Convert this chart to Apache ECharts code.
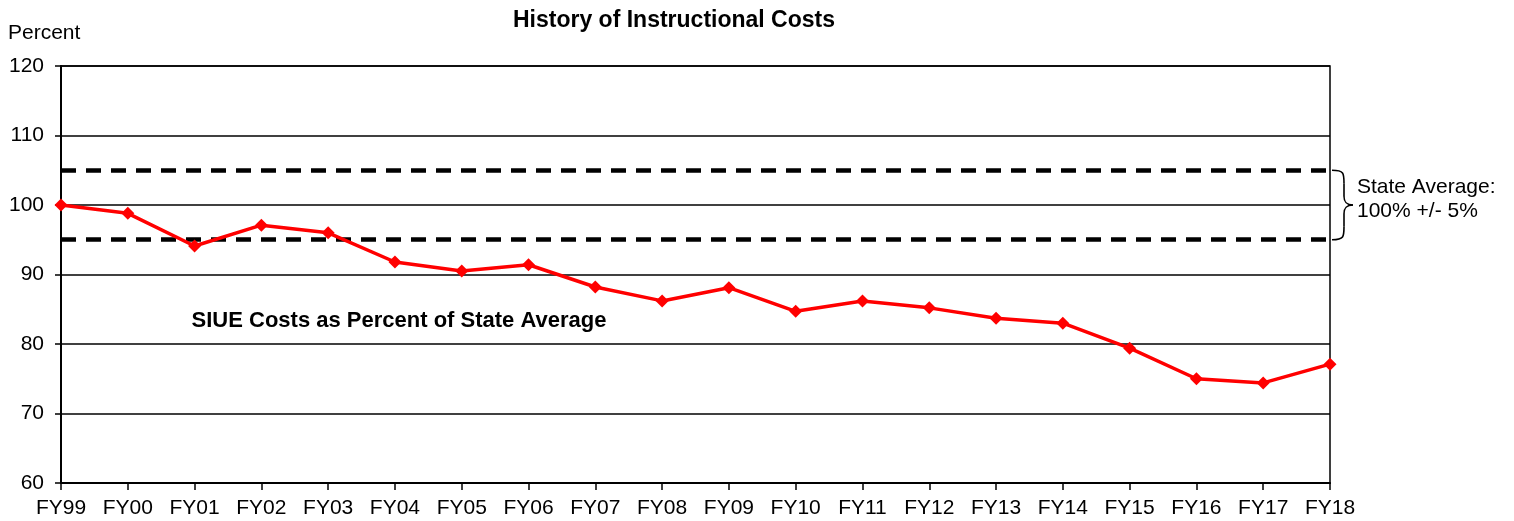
<!DOCTYPE html>
<html><head><meta charset="utf-8">
<script src="https://cdn.jsdelivr.net/npm/echarts@6/dist/echarts.min.js"></script>
<style>html,body{margin:0;padding:0;background:#fff}#c{width:1514px;height:521px}</style>
</head><body><div id="c"></div>
<script>
const categories = ['FY99','FY00','FY01','FY02','FY03','FY04','FY05','FY06','FY07','FY08','FY09','FY10','FY11','FY12','FY13','FY14','FY15','FY16','FY17','FY18'];
const siueCosts = [100.0, 98.8, 94.1, 97.1, 96.0, 91.8, 90.5, 91.4, 88.2, 86.2, 88.1, 84.7, 86.2, 85.2, 83.7, 83.0, 79.4, 75.0, 74.4, 77.1];
const bandLimits = [105, 95];
const yTicks = {min: 60, max: 120, interval: 10};

const F = 'Liberation Sans, Arial, sans-serif';
const chart = echarts.init(document.getElementById('c'));
chart.setOption({
  animation: false,
  title: {text: 'History of Instructional Costs', left: 669, top: 4, textAlign: 'center',
    textStyle: {fontFamily: F, fontSize: 23, fontWeight: 'bold', color: '#000'}},
  grid: {left: 61, right: 184, top: 66, bottom: 38, show: true, borderColor: '#000', borderWidth: 1.5, backgroundColor: 'transparent'},
  xAxis: {type: 'category', data: categories, boundaryGap: false,
    axisLine: {lineStyle: {color: '#000', width: 2}},
    axisTick: {show: true, length: 7, lineStyle: {color: '#000', width: 1.5}},
    axisLabel: {color: '#000', fontFamily: F, fontSize: 21, margin: 15, interval: 0},
    splitLine: {show: false}},
  yAxis: {type: 'value', min: yTicks.min, max: yTicks.max, interval: yTicks.interval,
    name: 'Percent', nameLocation: 'end', nameGap: 22,
    nameTextStyle: {color: '#000', fontFamily: F, fontSize: 21, align: 'left', padding: [0,0,0,-53]},
    axisLine: {show: true, lineStyle: {color: '#000', width: 2}},
    axisTick: {show: true, length: 6, lineStyle: {color: '#000', width: 1.5}},
    axisLabel: {color: '#000', fontFamily: F, fontSize: 21, margin: 17},
    splitLine: {lineStyle: {color: '#000', width: 1.5}}},
  series: [{
    type: 'line', data: siueCosts, symbol: 'diamond', symbolSize: 13,
    lineStyle: {color: '#ff0000', width: 3.5}, itemStyle: {color: '#ff0000'},
    z: 5,
    markLine: {silent: true, symbol: 'none', label: {show: false},
      lineStyle: {color: '#000', width: 4.5, type: [15, 10]},
      data: bandLimits.map(v => ({yAxis: v}))}
  }]
});

const yTop = chart.convertToPixel({yAxisIndex: 0}, bandLimits[0]);
const yBot = chart.convertToPixel({yAxisIndex: 0}, bandLimits[1]);
const x0 = chart.convertToPixel({xAxisIndex: 0}, categories[categories.length - 1]) + 2;
const mid = (yTop + yBot) / 2;
const w = 12;
const bs = {fill: 'none', stroke: '#000', lineWidth: 1.6};
const curve = (x1, y1, cx1, cy1, cx2, cy2, x2, y2) => ({type: 'bezierCurve', shape: {x1, y1, cpx1: cx1, cpy1: cy1, cpx2: cx2, cpy2: cy2, x2, y2}, style: bs});
const labelX = chart.convertToPixel({xAxisIndex: 0}, categories[2]) - 3;
const labelY = chart.convertToPixel({yAxisIndex: 0}, 83.3);
chart.setOption({graphic: [
  curve(x0, yTop, x0 + w, yTop, x0 + w, yTop + 3, x0 + w, yTop + 13),
  {type: 'line', shape: {x1: x0 + w, y1: yTop + 13, x2: x0 + w, y2: mid - 9}, style: bs},
  curve(x0 + w, mid - 9, x0 + w, mid - 2, x0 + w + 3, mid, x0 + w + 9, mid),
  curve(x0 + w + 9, mid, x0 + w + 3, mid, x0 + w, mid + 2, x0 + w, mid + 9),
  {type: 'line', shape: {x1: x0 + w, y1: mid + 9, x2: x0 + w, y2: yBot - 13}, style: bs},
  curve(x0 + w, yBot - 13, x0 + w, yBot - 3, x0 + w, yBot, x0, yBot),
  {type: 'text', x: x0 + 25, y: mid - 6, style: {text: 'State Average:\n100% +/- 5%', fill: '#000', font: '21px ' + F, lineHeight: 24, verticalAlign: 'middle', textVerticalAlign: 'middle'}},
  {type: 'text', x: labelX, y: labelY, style: {text: 'SIUE Costs as Percent of State Average', fill: '#000', font: 'bold 22px ' + F, textVerticalAlign: 'middle', verticalAlign: 'middle'}}
]});
</script></body></html>
